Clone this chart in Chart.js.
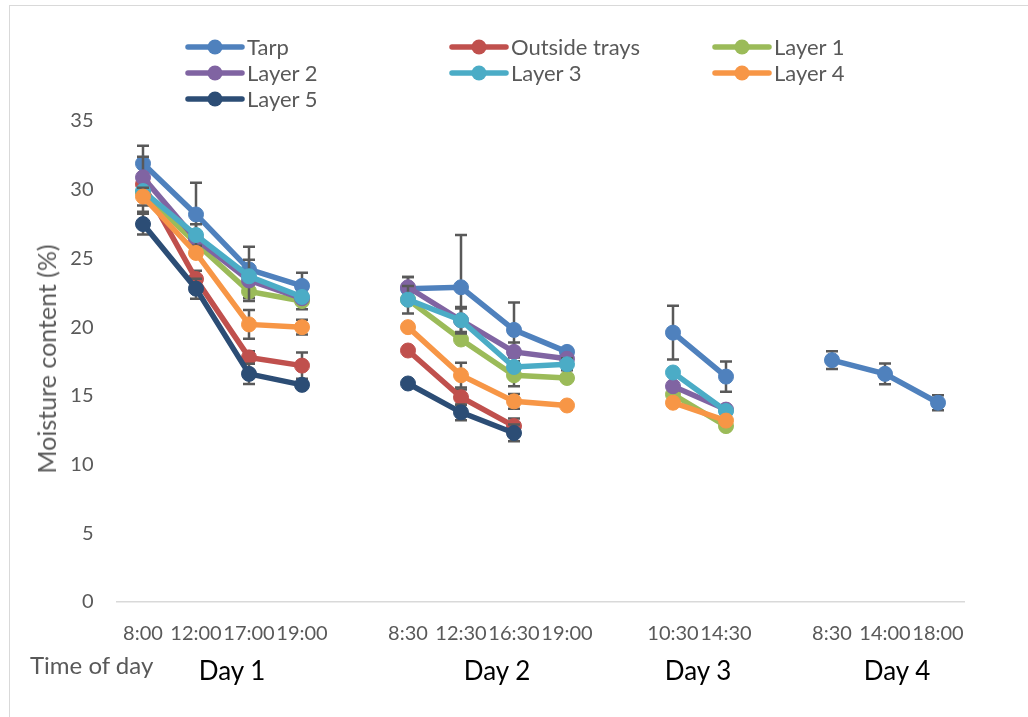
<!DOCTYPE html>
<html><head><meta charset="utf-8">
<script src="https://cdn.jsdelivr.net/npm/chart.js@4/dist/chart.umd.min.js"></script>
<style>
html,body{margin:0;padding:0;background:#fff;}
#wrap{position:relative;width:1028px;height:717px;overflow:hidden;font-family:Lato,"Open Sans",sans-serif;}
#frame{position:absolute;left:9px;top:5px;width:1200px;height:900px;border:1px solid #d9d9d9;box-sizing:border-box;}
#c{position:absolute;left:0;top:0;}
.leg{position:absolute;display:flex;align-items:center;color:#595959;font-size:22px;line-height:26px;white-space:nowrap;}
.leg svg{margin-right:2px;}
.txt{position:absolute;white-space:nowrap;line-height:1;}
#ytitle{position:absolute;left:46px;top:359px;transform:translate(-50%,-50%) rotate(-90deg);color:#595959;font-size:25px;white-space:nowrap;}
</style></head>
<body>
<div id="wrap">
<div id="frame"></div>
<canvas id="c" width="1028" height="717"></canvas>
<div id="legend"></div>
<div id="ytitle">Moisture content (%)</div>
<div class="txt" style="left:30px;top:653px;color:#595959;font-size:24px;">Time of day</div>
<div id="days"></div>
</div>
<script>
const timeLabels = ['8:00','12:00','17:00','19:00','','8:30','12:30','16:30','19:00','','10:30','14:30','','8:30','14:00','18:00'];
const seriesNames = ['Tarp','Outside trays','Layer 1','Layer 2','Layer 3','Layer 4','Layer 5'];
const seriesColors = ['#4F81BD','#C0504D','#9BBB59','#8064A2','#4BACC6','#F79646','#2C4D75'];

const tarp     = [31.9, 28.2, 24.2, 23.0, null, 22.8, 22.9, 19.8, 18.2, null, 19.6, 16.4, null, 17.6, 16.6, 14.5];
const outside  = [30.4, 23.5, 17.8, 17.2, null, 18.3, 14.9, 12.8, null, null, null, null, null, null, null, null];
const layer1   = [29.8, 26.1, 22.6, 21.9, null, 22.0, 19.1, 16.5, 16.3, null, 15.1, 12.8, null, null, null, null];
const layer2   = [30.9, 26.4, 23.4, 22.1, null, 22.9, 20.5, 18.2, 17.7, null, 15.7, 14.0, null, null, null, null];
const layer3   = [29.9, 26.7, 23.7, 22.2, null, 22.0, 20.5, 17.1, 17.3, null, 16.7, 13.9, null, null, null, null];
const layer4   = [29.5, 25.4, 20.2, 20.0, null, 20.0, 16.5, 14.6, 14.3, null, 14.5, 13.2, null, null, null, null];
const layer5   = [27.5, 22.8, 16.6, 15.8, null, 15.9, 13.8, 12.3, null, null, null, null, null, null, null, null];

const tarpErr    = [1.3, 2.3, 1.65, 0.95, null, 0.85, 3.8, 2.0, 0, null, 1.95, 1.1, null, 0.65, 0.75, 0.55];
const outsideErr = [2.0, 0.6, 0.45, 0.95, null, 0, 0.56, 0.56, null, null, null, null, null, null, null, null];
const layer1Err  = [0, 0, 0.5, 0.6, null, 0, 0, 0.8, 0, null, 0, 0, null, null, null, null];
const layer2Err  = [0, 0, 1.5, 0, null, 0.75, 0.85, 0.68, 0, null, 0, 0, null, null, null, null];
const layer3Err  = [0, 0.78, 0, 0, null, 1.0, 0.97, 0, 0.44, null, 0, 0, null, null, null, null];
const layer4Err  = [0.65, 0, 1.05, 0.53, null, 0, 0.9, 0.54, 0, null, 0, 0, null, null, null, null];
const layer5Err  = [0.75, 0.73, 0.73, 0, null, 0, 0.58, 0.61, null, null, null, null, null, null, null, null];

const dayNames = ['Day 1','Day 2','Day 3','Day 4'];

const seriesData = [tarp, outside, layer1, layer2, layer3, layer4, layer5];
const seriesErr = [tarpErr, outsideErr, layer1Err, layer2Err, layer3Err, layer4Err, layer5Err];

// legend
const legPos = [[185,47],[449,47],[712,47],[185,73],[449,73],[712,73],[185,99]];
const legEl = document.getElementById('legend');
seriesNames.forEach((n,i)=>{
  const d = document.createElement('div');
  d.className='leg';
  d.style.left = legPos[i][0]+'px';
  d.style.top = (legPos[i][1]-13)+'px';
  const c = seriesColors[i];
  d.innerHTML = '<svg width="60" height="20"><line x1="3" y1="10" x2="57" y2="10" stroke="'+c+'" stroke-width="5.5" stroke-linecap="round"/><circle cx="30" cy="10" r="7.5" fill="'+c+'"/></svg><span>'+n+'</span>';
  legEl.appendChild(d);
});
// day labels
const dayX = [232,497,698,897];
const daysEl = document.getElementById('days');
dayNames.forEach((n,i)=>{
  const d = document.createElement('div');
  d.className='txt';
  d.style.left = dayX[i]+'px';
  d.style.top = '657px';
  d.style.transform='translateX(-50%)';
  d.style.color='#000';
  d.style.fontSize='26px';
  d.textContent = n;
  daysEl.appendChild(d);
});

const errPlugin = {
  id:'errbars',
  beforeDatasetDraw(chart, args){
    const errs = seriesErr[args.index];
    const vals = seriesData[args.index];
    const xs = chart.scales.x, ys = chart.scales.y, ctx = chart.ctx;
    ctx.save();
    ctx.strokeStyle = '#595959';
    ctx.lineWidth = 2.5;
    errs.forEach((e,i)=>{
      const v = vals[i];
      if (v == null || !e) return;
      const px = xs.getPixelForValue(i);
      const t = ys.getPixelForValue(v+e), b = ys.getPixelForValue(v-e);
      ctx.beginPath();
      ctx.moveTo(px,t); ctx.lineTo(px,b);
      ctx.moveTo(px-6,t); ctx.lineTo(px+6,t);
      ctx.moveTo(px-6,b); ctx.lineTo(px+6,b);
      ctx.stroke();
    });
    ctx.restore();
  }
};

new Chart(document.getElementById('c'), {
  type:'line',
  data:{
    labels: timeLabels,
    datasets: seriesNames.map((n,i)=>({
      label:n,
      data: seriesData[i],
      borderColor: seriesColors[i],
      backgroundColor: seriesColors[i],
      pointBackgroundColor: seriesColors[i],
      pointBorderColor: seriesColors[i],
      pointBorderWidth: 1,
      pointRadius: 7.5,
      borderWidth: 5.5,
      tension: 0,
      spanGaps: false,
      order: -i
    }))
  },
  options:{
    responsive:false,
    animation:false,
    events:[],
    layout:{padding:{left:0,right:63.5,top:121,bottom:75}},
    plugins:{legend:{display:false},tooltip:{enabled:false}},
    scales:{
      x:{
        offset:true,
        grid:{display:false,drawTicks:false},
        border:{display:true,color:'#d9d9d9',width:1.5},
        ticks:{autoSkip:false,maxRotation:0,minRotation:0,padding:20,color:'#595959',font:{family:'Lato',size:20}},
        afterFit(s){ s.height = 40; }
      },
      y:{
        min:0,max:35,
        grid:{display:false,drawTicks:false},
        border:{display:false},
        ticks:{stepSize:5,padding:23,color:'#595959',font:{family:'Lato',size:20}},
        afterFit(s){ s.width = 116.5; }
      }
    }
  },
  plugins:[errPlugin]
});
</script>
</body></html>
